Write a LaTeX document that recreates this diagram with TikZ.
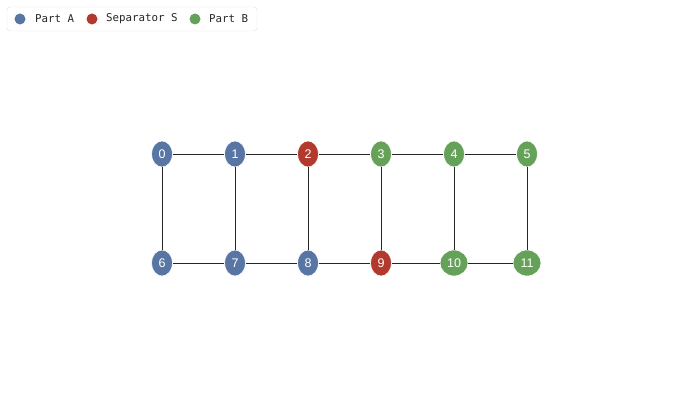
\documentclass[tikz,border=0pt]{standalone}
\usepackage{fontspec}
\setmainfont{Liberation Sans}
\setmonofont{DejaVu Sans Mono}
\usetikzlibrary{shapes.geometric}
\definecolor{partA}{HTML}{5875A4}
\definecolor{sepS}{HTML}{B2392D}
\definecolor{partB}{HTML}{66A15A}

\begin{document}
\begin{tikzpicture}[
        x=1pt,y=1pt,
        vtx/.style={ellipse,draw=white,line width=0.6pt,text=white,font=\fontsize{12.5}{14}\selectfont,minimum width=21pt,minimum height=26pt,inner sep=0pt},
        wide/.style={minimum width=28pt},
        edge/.style={draw=black!85,line width=0.8pt},
        dot/.style={circle,minimum size=11pt,inner sep=0pt},
        lbl/.style={anchor=west,font=\ttfamily\fontsize{10.8}{12}\selectfont,text=black!85,inner sep=0pt}
      ]
      \useasboundingbox (0,0) rectangle (690,416);

      % legend
      \draw[black!12,rounded corners=3pt,fill=white] (7,385) rectangle (257,409);
      \node[dot,fill=partA] (dA) at (20,397) {};
      \node[lbl] (tA) at (35,397) {Part A};
      \node[dot,fill=sepS] (dS) at (92,397) {};
      \node[lbl] (tS) at (106,397) {Separator S};
      \node[dot,fill=partB] (dB) at (195,397) {};
      \node[lbl] (tB) at (209,397) {Part B};

      % top row
      \node[vtx,fill=partA] (n0) at (162,262) {0};
      \node[vtx,fill=partA] (n1) at (235,262) {1};
      \node[vtx,fill=sepS] (n2) at (308,262) {2};
      \node[vtx,fill=partB] (n3) at (381,262) {3};
      \node[vtx,fill=partB] (n4) at (454,262) {4};
      \node[vtx,fill=partB] (n5) at (527,262) {5};
      % bottom row
      \node[vtx,fill=partA] (n6) at (162,153) {6};
      \node[vtx,fill=partA] (n7) at (235,153) {7};
      \node[vtx,fill=partA] (n8) at (308,153) {8};
      \node[vtx,fill=sepS] (n9) at (381,153) {9};
      \node[vtx,wide,fill=partB] (n10) at (454,153) {10};
      \node[vtx,wide,fill=partB] (n11) at (527,153) {11};

      \foreach \a/\b in {0/1,1/2,2/3,3/4,4/5,6/7,7/8,8/9,9/10,10/11,0/6,1/7,2/8,3/9,4/10,5/11}
        \draw[edge] (n\a) -- (n\b);
    \end{tikzpicture}
\end{document}
